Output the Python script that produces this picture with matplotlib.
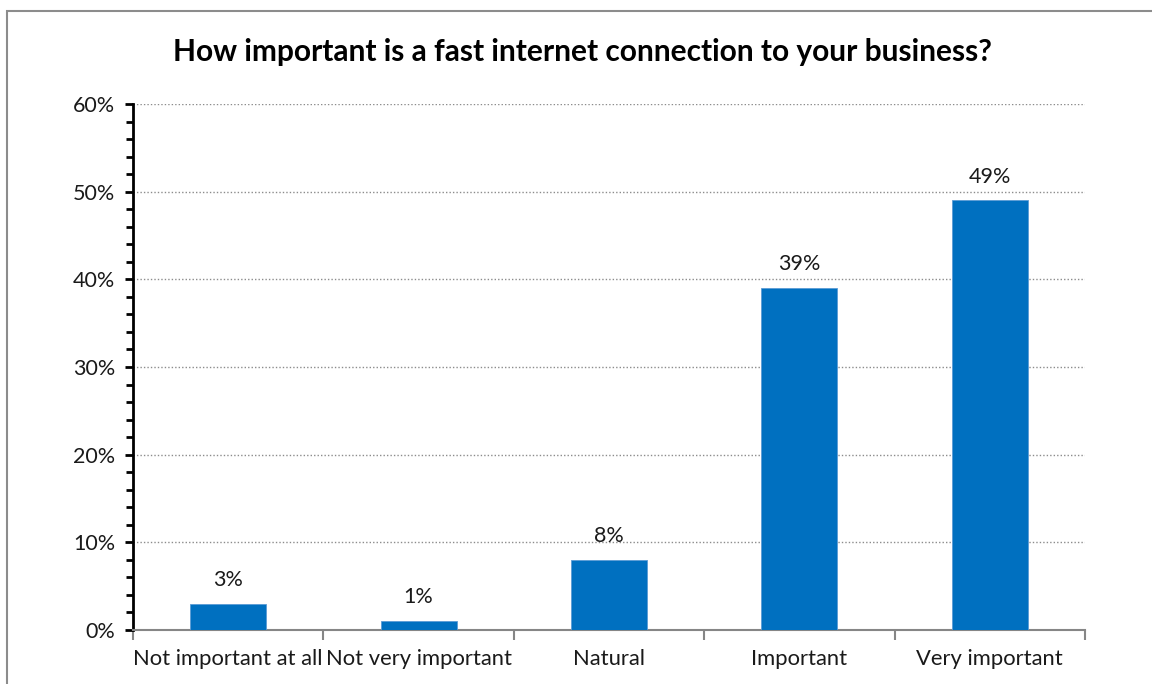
import numpy as np
import matplotlib.pyplot as plt
from matplotlib.patches import Rectangle
from matplotlib.ticker import MultipleLocator, PercentFormatter

categories = ['Not important at all', 'Not very important', 'Natural',
              'Important', 'Very important']
shares = [3, 1, 8, 39, 49]   # percent of respondents
labels = ['3%', '1%', '8%', '39%', '49%']

plt.rcParams['font.family'] = ['Lato', 'DejaVu Sans']

fig = plt.figure(figsize=(11.52, 6.84), dpi=100)
ax = fig.add_axes([133 / 1152, 1 - 630 / 684, 952 / 1152, 526 / 684])

x = np.arange(len(categories))
bars = ax.bar(x, shares, width=0.4, color='#0070C0', edgecolor='#5B9BD5',
              linewidth=0.6, zorder=3)

for b, txt in zip(bars, labels):
    ax.annotate(txt, (b.get_x() + b.get_width() / 2, b.get_height()),
                xytext=(0, 10), textcoords='offset points',
                ha='center', va='bottom', fontsize=15.5, color='#1a1a1a')

ax.set_xlim(-0.5, len(categories) - 0.5)
ax.set_ylim(0, 60)
ax.yaxis.set_major_locator(MultipleLocator(10))
ax.yaxis.set_minor_locator(MultipleLocator(2))
ax.yaxis.set_major_formatter(PercentFormatter(decimals=0))

ax.set_xticks(x)
ax.set_xticklabels(categories)
ax.set_xticks(np.arange(-0.5, len(categories)), minor=True)
ax.tick_params(axis='x', which='major', length=0, pad=14, labelsize=15.8,
               labelcolor='#1a1a1a')
ax.tick_params(axis='x', which='minor', length=7, width=1.5, color='#868686')
ax.tick_params(axis='y', which='major', length=6, width=2, labelsize=15.5, pad=7,
               labelcolor='#1a1a1a')
ax.tick_params(axis='y', which='minor', length=5, width=2)

# dotted horizontal gridlines, skipping the baseline
for yv in range(10, 61, 10):
    ax.axhline(yv, color='#8C8C8C', linestyle=(0, (1, 1.5)), linewidth=1, zorder=1)

for side in ['top', 'right']:
    ax.spines[side].set_visible(False)
ax.spines['left'].set_linewidth(2)
ax.spines['left'].set_color('black')
ax.spines['bottom'].set_linewidth(1.5)
ax.spines['bottom'].set_color('#868686')

fig.text(582 / 1152, 1 - 52 / 684,
         'How important is a fast internet connection to your business?',
         ha='center', va='center', fontsize=21.5, fontweight='bold')

# chart area frame
fig.patches.append(Rectangle((7 / 1152, -0.1), 1.2, 1 - 11 / 684 + 0.1,
                             transform=fig.transFigure, fill=False,
                             edgecolor='#8C8C8C', linewidth=1.5))

fig.savefig('out.png', dpi=100)
